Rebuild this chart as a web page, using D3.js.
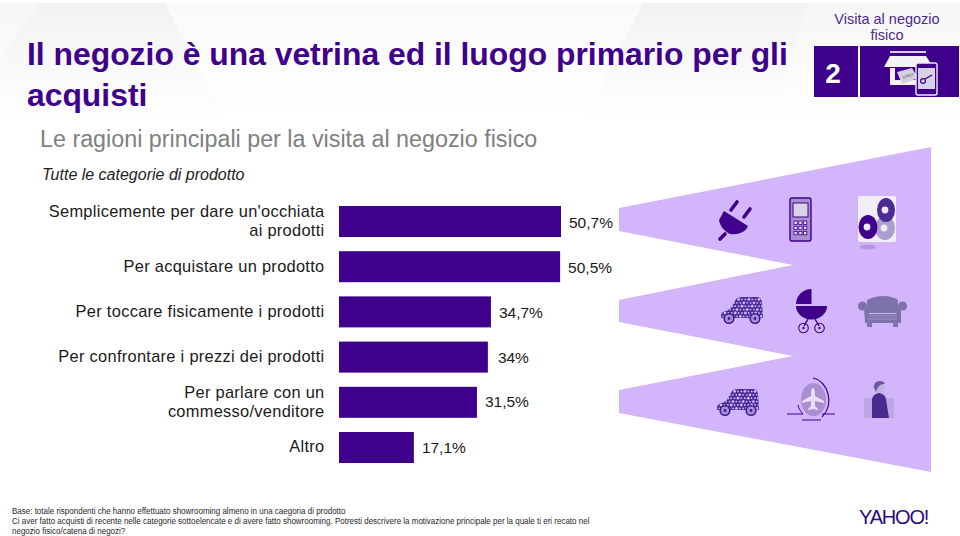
<!DOCTYPE html>
<html>
<head>
<meta charset="utf-8">
<script src="https://cdn.jsdelivr.net/npm/d3@7/dist/d3.min.js"></script>
<style>
  html, body { margin: 0; padding: 0; background: #fff; }
  text { font-family: "Liberation Sans", Arial, sans-serif; }
</style>
</head>
<body>
<div id="chart"></div>
<script>
// Chart data
const categories = [
    ["Semplicemente per dare un'occhiata", "ai prodotti"],
    ["Per acquistare un prodotto"],
    ["Per toccare fisicamente i prodotti"],
    ["Per confrontare i prezzi dei prodotti"],
    ["Per parlare con un", "commesso/venditore"],
    ["Altro"]
];
const values = [50.7, 50.5, 34.7, 34, 31.5, 17.1];
const valueLabels = ["50,7%", "50,5%", "34,7%", "34%", "31,5%", "17,1%"];
const titleLines = ["Il negozio è una vetrina ed il luogo primario per gli", "acquisti"];
const footnotes = [
    "Base: totale rispondenti che hanno effettuato showrooming almeno in una caegoria di prodotto",
    "Ci aver fatto acquisti di recente nelle categorie sottoelencate e di avere fatto showrooming. Potresti descrivere la motivazione principale per la quale ti eri recato nel",
    "negozio fisico/catena di negozi?"
];

const width = 960;
const height = 536;
const purple = "#3f008c";
const lilac = "#d3b5fb";

const svg = d3.select("#chart")
    .append("svg")
    .attr("width", width)
    .attr("height", height)
    .style("display", "block");

// Faint grey header facets
const defs = svg.append("defs");
const grad = defs.append("linearGradient").attr("id", "headFade").attr("x1", 0).attr("y1", 0).attr("x2", 0).attr("y2", 1);
grad.append("stop").attr("offset", "0%").attr("stop-color", "#f2f2f2");
grad.append("stop").attr("offset", "100%").attr("stop-color", "#ffffff");
svg.append("path").attr("d", "M0,3H960V125H0Z").attr("fill", "url(#headFade)");
svg.append("path").attr("d", "M165,3H643L582,125H227Z").attr("fill", "#fff").attr("opacity", 0.6);
svg.append("path").attr("d", "M808,3H960V125H770Z").attr("fill", "#fff").attr("opacity", 0.35);
svg.append("path").attr("d", "M0,3H40L0,60Z").attr("fill", "#fff").attr("opacity", 0.4);

// Title block
svg.append("text")
    .attr("x", 27).attr("y", 65)
    .attr("font-size", 31.85).attr("font-weight", "bold").attr("fill", purple)
    .selectAll("tspan").data(titleLines).join("tspan")
    .attr("x", 27).attr("dy", (d, i) => i ? 41 : 0)
    .text(d => d);

svg.append("text").attr("x", 40).attr("y", 147)
    .attr("font-size", 23.3).attr("fill", "#7f7f7f")
    .style("-webkit-text-stroke", "0.2px #7f7f7f")
    .text("Le ragioni principali per la visita al negozio fisico");

svg.append("text").attr("x", 42).attr("y", 180)
    .attr("font-size", 16).attr("font-style", "italic").attr("fill", "#222")
    .text("Tutte le categorie di prodotto");

// Section badge
svg.append("text").attr("x", 887).attr("y", 24).attr("text-anchor", "middle")
    .attr("font-size", 14.5).attr("fill", "#4d2a8c").text("Visita al negozio");
svg.append("text").attr("x", 887).attr("y", 40).attr("text-anchor", "middle")
    .attr("font-size", 14.5).attr("fill", "#4d2a8c").text("fisico");
svg.append("rect").attr("x", 814).attr("y", 46).attr("width", 44).attr("height", 51).attr("fill", purple);
svg.append("rect").attr("x", 860).attr("y", 46).attr("width", 99).attr("height", 51).attr("fill", purple);
svg.append("text").attr("x", 833).attr("y", 83).attr("text-anchor", "middle")
    .attr("font-size", 28).attr("font-weight", "bold").attr("fill", "#fff").text("2");

// Shop and phone glyph
const shop = svg.append("g");
shop.append("rect").attr("x", 890).attr("y", 51).attr("width", 36).attr("height", 2).attr("fill", "#d8d0e8");
shop.append("path").attr("d", "M890,56H926L933,67H884Z").attr("fill", "#f4f1f8");
shop.append("path").attr("d", "M890,68H895V80H920V85H890Z").attr("fill", "#f4f1f8");
shop.append("path").attr("d", "M897,72L912,68L918,78L902,84Z").attr("fill", "#d5d0dc");
shop.append("text").attr("x", 903).attr("y", 79).attr("font-size", 4).attr("fill", "#555")
    .attr("transform", "rotate(-18 903 79)").text("OPEN");
shop.append("rect").attr("x", 916).attr("y", 63).attr("width", 21).attr("height", 32).attr("rx", 2)
    .attr("fill", purple).attr("stroke", "#f0ecf6").attr("stroke-width", 1.4);
shop.append("rect").attr("x", 918).attr("y", 68).attr("width", 17).attr("height", 21).attr("fill", "#d9d2e6");
shop.append("circle").attr("cx", 923).attr("cy", 81).attr("r", 2.4).attr("fill", "none").attr("stroke", purple).attr("stroke-width", 1.2);
shop.append("path").attr("d", "M925,79L932,75").attr("stroke", purple).attr("stroke-width", 1.4);

// Lilac funnel behind the icons
const funnel = [[619, 208], [931, 147], [931, 472], [619, 413], [619, 390], [793, 356], [619, 322], [619, 300], [793, 265], [619, 231]];
svg.append("polygon")
    .attr("points", funnel.join(" "))
    .attr("fill", lilac);

// Scales
const xScale = d3.scaleLinear()
    .domain([0, 50.7])
    .range([339, 561]);

const yScale = d3.scaleBand()
    .domain(d3.range(categories.length))
    .range([206, 463])
    .paddingInner(0.314);

// Bars
svg.append("g").selectAll("rect")
    .data(values)
    .join("rect")
    .attr("x", xScale(0))
    .attr("y", (d, i) => yScale(i))
    .attr("width", d => xScale(d) - xScale(0))
    .attr("height", yScale.bandwidth())
    .attr("fill", purple);

// Category labels, right aligned against the bars
const catGroup = svg.append("g");
categories.forEach((lines, i) => {
    const mid = yScale(i) + yScale.bandwidth() / 2;
    lines.forEach((line, j) => {
        catGroup.append("text")
            .attr("x", 324.5)
            .attr("y", mid + 5 + (j - (lines.length - 1) / 2) * 18.5)
            .attr("text-anchor", "end")
            .attr("font-size", 16.4)
            .attr("letter-spacing", 0.3)
            .attr("fill", "#1a1a1a")
            .style("-webkit-text-stroke", "0.5px #1a1a1a")
            .text(line);
    });
});

// Value labels
const labelOffsets = [8, 8, 8, 10, 8, 8];
const labelShift = [6, 6, 6, 6, 5, 6];
svg.append("g").selectAll("text")
    .data(valueLabels)
    .join("text")
    .attr("x", (d, i) => xScale(values[i]) + labelOffsets[i])
    .attr("y", (d, i) => yScale(i) + yScale.bandwidth() / 2 + labelShift[i])
    .attr("font-size", 15.5)
    .attr("fill", "#1a1a1a")
    .style("-webkit-text-stroke", "0.5px #1a1a1a")
    .text(d => d);

// Icons on the funnel
const icons = svg.append("g");

// Plug
icons.append("path").attr("d", "M724,211L748,226C746,232 738,235 730,234C724,231 720,226 719,220Z").attr("fill", purple);
icons.append("path").attr("d", "M731,210L737,202M744,217L750,209M725,234L720,239").attr("stroke", purple).attr("stroke-width", 3.6).attr("stroke-linecap", "round");

// Phone
icons.append("rect").attr("x", 790).attr("y", 198).attr("width", 21).attr("height", 43).attr("rx", 2).attr("fill", "#a78fd0").attr("stroke", purple).attr("stroke-width", 1.4);
icons.append("rect").attr("x", 793).attr("y", 203).attr("width", 15).attr("height", 14).attr("fill", "#d9d4e8").attr("stroke", purple).attr("stroke-width", 1);
d3.range(9).forEach(k => {
    icons.append("rect")
        .attr("x", 794 + (k % 3) * 4.8).attr("y", 221 + Math.floor(k / 3) * 5.2)
        .attr("width", 3.2).attr("height", 3.4).attr("fill", "#e6e0f2").attr("stroke", purple).attr("stroke-width", 0.8);
});

// Discs
icons.append("rect").attr("x", 858).attr("y", 196).attr("width", 38).attr("height", 46).attr("rx", 2).attr("fill", "#f1eff5");
icons.append("ellipse").attr("cx", 868).attr("cy", 247).attr("rx", 8).attr("ry", 2.5).attr("fill", "#b596e6");
[[885, 228, "#ac9fd0", 10, 12], [886, 210, "#4e2b94", 9, 12], [868, 227, purple, 9.5, 12]].forEach(d => {
    icons.append("ellipse").attr("cx", d[0]).attr("cy", d[1]).attr("rx", d[3]).attr("ry", d[4]).attr("fill", d[2]);
    icons.append("circle").attr("cx", d[0] - 1).attr("cy", d[1]).attr("r", 3.4).attr("fill", "#efeaf6");
});

// Mosaic car, used twice
let carId = 0;
function drawCar(cx, cy) {
    const body = "M-21,3L-12,-1L-6,-11Q-4,-13 0,-13H15Q19,-13 20,-8L21,8L-21,8Z";
    const id = "carClip" + (carId++);
    defs.append("clipPath").attr("id", id).append("path").attr("d", body);
    const g = icons.append("g").attr("transform", `translate(${cx},${cy})`);
    g.append("path").attr("d", body).attr("fill", "#4a2a96");
    const dots = g.append("g").attr("clip-path", `url(#${id})`);
    d3.range(-22, 24, 3.4).forEach((x, a) => {
        d3.range(-14, 10, 3.4).forEach((y, b) => {
            dots.append("circle")
                .attr("cx", x + (b % 2) * 1.6).attr("cy", y)
                .attr("r", (a + b) % 3 ? 0.9 : 1.4)
                .attr("fill", lilac);
        });
    });
    [-13, 13].forEach(x => {
        g.append("circle").attr("cx", x).attr("cy", 8.5).attr("r", 4.8).attr("fill", "#a98fd6").attr("stroke", "#3f1a8c").attr("stroke-width", 1.6);
        g.append("circle").attr("cx", x).attr("cy", 8.5).attr("r", 1.4).attr("fill", "#3f1a8c");
    });
}
drawCar(742, 310);
drawCar(738, 402);

// Pram
icons.append("path").attr("d", "M811.5,289A15.5,15.5 0 0 0 796,304H811.5Z").attr("fill", purple);
icons.append("path").attr("d", "M796,306H827A15.5,13.5 0 0 1 796,306Z").attr("fill", purple);
icons.append("path").attr("d", "M808,319L804,326M815,319L819,326").attr("stroke", purple).attr("stroke-width", 1.5);
[803.5, 819.5].forEach(x => {
    icons.append("circle").attr("cx", x).attr("cy", 328).attr("r", 4.8).attr("fill", "none").attr("stroke", purple).attr("stroke-width", 1.1);
    icons.append("circle").attr("cx", x).attr("cy", 328).attr("r", 1.2).attr("fill", purple);
});

// Armchair
icons.append("path").attr("d", "M867,300Q875,296 883,296Q892,296 898,300V313H867Z").attr("fill", "#7e72ab");
icons.append("circle").attr("cx", 862.5).attr("cy", 306).attr("r", 4.5).attr("fill", "#7e72ab");
icons.append("circle").attr("cx", 902.5).attr("cy", 306).attr("r", 4.5).attr("fill", "#7e72ab");
icons.append("path").attr("d", "M864,308H869V314H896V308H901V323H898V327H893V323H872V327H867V323H865Z").attr("fill", "#7e72ab");
icons.append("path").attr("d", "M868,316H897M868,319H897").attr("stroke", "#a79cc9").attr("stroke-width", 0.8);

// Plane in a ring
icons.append("ellipse").attr("cx", 813.5).attr("cy", 399.5).attr("rx", 12.5).attr("ry", 16.5).attr("fill", "#a98fd2");
icons.append("path").attr("d", "M813,378C828,381 835,404 822,417").attr("fill", "none").attr("stroke", purple).attr("stroke-width", 1.2);
icons.append("path").attr("d", "M798,405C799,409 801,412 803,414H787M822,414H835M802,420H821").attr("fill", "none").attr("stroke", purple).attr("stroke-width", 1);
icons.append("path").attr("d", "M813,388C815,388 815,392 815,396L824,401V403L815,401V406L818,409V410L813,409L808,410V409L811,406V401L802,403V401L811,396C811,392 811,388 813,388Z").attr("fill", "#e8def8");

// Seated person
icons.append("rect").attr("x", 864).attr("y", 398).attr("width", 30).attr("height", 20).attr("fill", "#bda6e2");
icons.append("path").attr("d", "M872,418V399Q873,394 879,393Q885,394 886,399L889,418Z").attr("fill", "#4b2a8e");
icons.append("circle").attr("cx", 879).attr("cy", 387).attr("r", 6).attr("fill", "#bfb2dc");
icons.append("path").attr("d", "M874,387Q874,381 880,381Q884,381 885,384Q878,383 876,392Z").attr("fill", "#6d55a6");

// Footnotes, squeezed like the original slide
svg.append("g").attr("transform", "translate(12,0) scale(0.93,1)")
    .selectAll("text")
    .data(footnotes)
    .join("text")
    .attr("x", 0)
    .attr("y", (d, i) => 514 + i * 10)
    .attr("font-size", 8.6)
    .attr("fill", "#262626")
    .text(d => d);

// Logo
svg.append("text").attr("x", 859).attr("y", 524)
    .attr("font-size", 20).attr("letter-spacing", -1.2).attr("fill", "#2c0a80")
    .text("YAHOO!");
</script>
</body>
</html>
